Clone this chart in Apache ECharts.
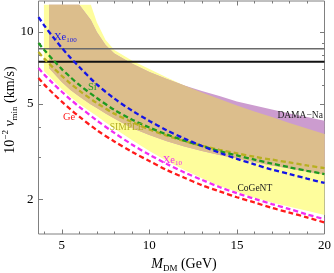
<!DOCTYPE html>
<html><head><meta charset="utf-8">
<script src="https://cdn.jsdelivr.net/npm/echarts@6/dist/echarts.min.js"></script>
<style>html,body{margin:0;padding:0;background:#fff}#c{width:334px;height:273px}</style>
</head><body><div id="c"></div>
<script>
// axis ranges and ticks
const xMin = 3.67, xMax = 20, yMin = 1.432, yMax = 13.48;
const xMajor = [5, 10, 15, 20];
const xMinor = [4, 6, 7, 8, 9, 11, 12, 13, 14, 16, 17, 18, 19];
const yMajor = [2, 5, 10];
const yMinor = [3, 4, 6, 7, 8, 9];

// dashed exclusion curves (M_DM in GeV, 10^-2 v_min in km/s)
const lineX  = [3.67, 4, 4.5, 5, 5.5, 6, 7, 8, 9, 10, 11, 12, 13, 14, 15, 16, 17, 18, 19, 20];
const xe100  = [11.55, 10.65, 9.53, 8.59, 7.80, 7.14, 6.04, 5.27, 4.70, 4.25, 3.88, 3.59, 3.34, 3.13, 2.95, 2.80, 2.66, 2.55, 2.44, 2.34];
const si     = [9.00, 8.41, 7.66, 7.00, 6.47, 6.01, 5.30, 4.73, 4.31, 3.99, 3.73, 3.52, 3.34, 3.18, 3.05, 2.93, 2.82, 2.72, 2.63, 2.55];
const simple = [8.25, 7.74, 7.11, 6.56, 6.09, 5.69, 5.05, 4.56, 4.21, 3.92, 3.69, 3.50, 3.35, 3.22, 3.11, 3.01, 2.93, 2.85, 2.77, 2.70];
const xe10   = [7.07, 6.64, 6.10, 5.63, 5.22, 4.87, 4.27, 3.79, 3.39, 3.07, 2.81, 2.59, 2.41, 2.25, 2.12, 2.01, 1.91, 1.82, 1.73, 1.65];
const ge     = [6.43, 6.03, 5.54, 5.12, 4.75, 4.43, 3.89, 3.49, 3.16, 2.89, 2.65, 2.46, 2.29, 2.16, 2.04, 1.94, 1.84, 1.76, 1.68, 1.60];

// signal regions
const bandX       = [3.98, 4.27, 5, 5.5, 6, 6.66, 7, 7.5, 8, 9, 10, 11, 12, 13, 14, 15, 16, 17, 18, 19, 20];
const cogentUpper = [13, 13, 13, 13, 13, 13, 11.0, 9.26, 8.41, 7.60, 7.00, 6.45, 5.98, 5.59, 5.25, 4.93, 4.65, 4.41, 4.17, 3.95, 3.75];
const cogentLower = [6.87, 6.55, 5.78, 5.35, 5.00, 4.63, 4.46, 4.19, 3.95, 3.54, 3.18, 2.89, 2.65, 2.45, 2.27, 2.15, 2.03, 1.94, 1.86, 1.79, 1.72];
const damaUpper   = [null, 13, 13, 13, 13, 11.23, 10.0, 8.82, 8.13, 7.39, 6.81, 6.36, 5.98, 5.67, 5.40, 5.13, 4.93, 4.74, 4.57, 4.41, 4.26];
const damaLower   = [null, 7.07, 6.18, 5.72, 5.38, 4.98, 4.81, 4.57, 4.35, 3.97, 3.71, 3.50, 3.32, 3.18, 3.06, 2.96, 2.86, 2.77, 2.69, 2.61, 2.53];

// horizontal reference lines
const hLineGray = 8.52, hLineBlack = 7.51;

// annotations [x, v]
const annotations = [
  {t: '{i|Xe}{s|100}', x: 4.55, v: 9.53, c: '#1a1ae6'},
  {t: '{n|Si}', x: 6.49, v: 5.88, c: '#1f9a1f'},
  {t: '{n|Ge}', x: 5.07, v: 4.41, c: '#ff1a1a'},
  {t: '{m|SIMPLE}', x: 7.74, v: 3.99, c: '#b3ad22'},
  {t: '{i|Xe}{s|10}', x: 10.76, v: 2.92, c: '#f22cf2'},
  {t: '{m|DAMA\u2212Na}', x: 17.31, v: 4.46, c: '#222'},
  {t: '{m|CoGeNT}', x: 15.03, v: 2.22, c: '#222'}
];

const SERIF = 'Liberation Serif';
const chart = echarts.init(document.getElementById('c'), null, {renderer: 'canvas'});

function zip(xs, ys) { const r = []; for (let i = 0; i < xs.length; i++) if (ys[i] != null) r.push([xs[i], ys[i]]); return r; }

function polygon(getPts, color, z) {
  return {
    type: 'custom', coordinateSystem: 'cartesian2d', clip: true, silent: true, z: z,
    data: [[bandX[0], cogentUpper[0]]],
    renderItem: function (params, api) {
      const pts = getPts().map(p => api.coord(p));
      return {type: 'polygon', shape: {points: pts}, style: {fill: color}};
    }
  };
}

const yellowPts = () => zip(bandX, cogentUpper).concat(zip(bandX, cogentLower).reverse());
const damaPts = () => zip(bandX, damaUpper).concat(zip(bandX, damaLower).reverse());
const overlapPts = () => {
  const top = bandX.map((x, i) => damaUpper[i] == null ? null : Math.min(damaUpper[i], cogentUpper[i]));
  return zip(bandX, top).concat(zip(bandX, damaLower).reverse());
};

function dashed(ys, color) {
  return {
    type: 'line', data: zip(lineX, ys), smooth: 0.3, symbol: 'none', z: 5, silent: true,
    lineStyle: {color: color, width: 2.3, type: [5, 3]}
  };
}
function hline(v, color, w) {
  return {type: 'line', data: [[xMin, v], [xMax, v]], symbol: 'none', z: 4, silent: true,
    lineStyle: {color: color, width: w}};
}

const tickColor = '#7a7a7a';
function xAx(pos, vals, len, labels) {
  return {type: 'value', min: xMin, max: xMax, position: pos, gridIndex: 0,
    axisLine: {show: false}, splitLine: {show: false},
    axisTick: {show: true, inside: true, length: len, customValues: vals, lineStyle: {color: tickColor, width: 1}},
    axisLabel: labels ? {show: true, customValues: vals, fontFamily: SERIF, fontSize: 13, color: '#000', margin: 5} : {show: false}
  };
}
function yAx(pos, vals, len, labels) {
  return {type: 'log', logBase: 10, min: yMin, max: yMax, position: pos, gridIndex: 0,
    axisLine: {show: false}, splitLine: {show: false}, minorTick: {show: false},
    axisTick: {show: true, inside: true, length: len, customValues: vals, lineStyle: {color: tickColor, width: 1}},
    axisLabel: labels ? {show: true, customValues: vals, fontFamily: SERIF, fontSize: 13, color: '#000', margin: 5} : {show: false}
  };
}

const option = {
  animation: false,
  backgroundColor: '#fff',
  grid: {left: 38.5, right: 8, top: 1, bottom: 39, show: true, borderColor: '#808080', borderWidth: 1, backgroundColor: 'transparent'},
  xAxis: [xAx('bottom', xMajor, 4.5, true), xAx('bottom', xMinor, 2.5, false), xAx('top', xMajor, 4.5, false), xAx('top', xMinor, 2.5, false)],
  yAxis: [yAx('left', yMajor, 4.5, true), yAx('left', yMinor, 2.5, false), yAx('right', yMajor, 4.5, false), yAx('right', yMinor, 2.5, false)],
  series: [
    polygon(yellowPts, '#fefd9c', 1),
    polygon(damaPts, '#cc9ccf', 2),
    polygon(overlapPts, '#dcbe8c', 3),
    hline(hLineGray, '#6a6a6a', 1.6),
    hline(hLineBlack, '#111', 2),
    dashed(simple, '#b8b020'),
    dashed(si, '#1f9a1f'),
    dashed(xe100, '#1414e6'),
    dashed(xe10, '#f22cf2'),
    dashed(ge, '#ff1a1a'),
    {
      type: 'custom', coordinateSystem: 'cartesian2d', clip: false, silent: true, z: 10,
      data: annotations.map(a => [a.x, a.v]),
      renderItem: function (params, api) {
        const a = annotations[params.dataIndex];
        const p = api.coord([a.x, a.v]);
        return {type: 'text', x: p[0], y: p[1], style: {
          text: a.t, fill: a.c, align: 'left', verticalAlign: 'middle', fontFamily: SERIF,
          rich: {
            i: {fontFamily: SERIF, fontSize: 10.5, fill: a.c, lineHeight: 14},
            s: {fontFamily: SERIF, fontSize: 7, fill: a.c, lineHeight: 8, verticalAlign: 'bottom'},
            n: {fontFamily: SERIF, fontSize: 10.5, fill: a.c, lineHeight: 14},
            m: {fontFamily: SERIF, fontSize: 9.5, fill: a.c, lineHeight: 12}
          }
        }};
      }
    }
  ],
  graphic: [
    {type: 'text', x: 184, y: 264, silent: true, style: {
      text: '{i|M}{s|DM}{n| (GeV)}', align: 'center', verticalAlign: 'middle',
      rich: {
        i: {fontFamily: SERIF, fontStyle: 'italic', fontSize: 14, fill: '#000', lineHeight: 18},
        s: {fontFamily: SERIF, fontSize: 9, fill: '#000', lineHeight: 10, verticalAlign: 'bottom'},
        n: {fontFamily: SERIF, fontSize: 14, fill: '#000', lineHeight: 18}
      }
    }},
    {type: 'text', x: 10, y: 110, rotation: Math.PI / 2, silent: true, style: {
      text: '{n|10}{p|\u22122}{i| v}{s|min}{n| (km/s)}', align: 'center', verticalAlign: 'middle',
      rich: {
        n: {fontFamily: SERIF, fontSize: 14, fill: '#000', lineHeight: 18},
        p: {fontFamily: SERIF, fontSize: 9, fill: '#000', lineHeight: 10, verticalAlign: 'top'},
        i: {fontFamily: SERIF, fontStyle: 'italic', fontSize: 14, fill: '#000', lineHeight: 18},
        s: {fontFamily: SERIF, fontSize: 9, fill: '#000', lineHeight: 10, verticalAlign: 'bottom'}
      }
    }}
  ]
};
chart.setOption(option);
</script></body></html>
